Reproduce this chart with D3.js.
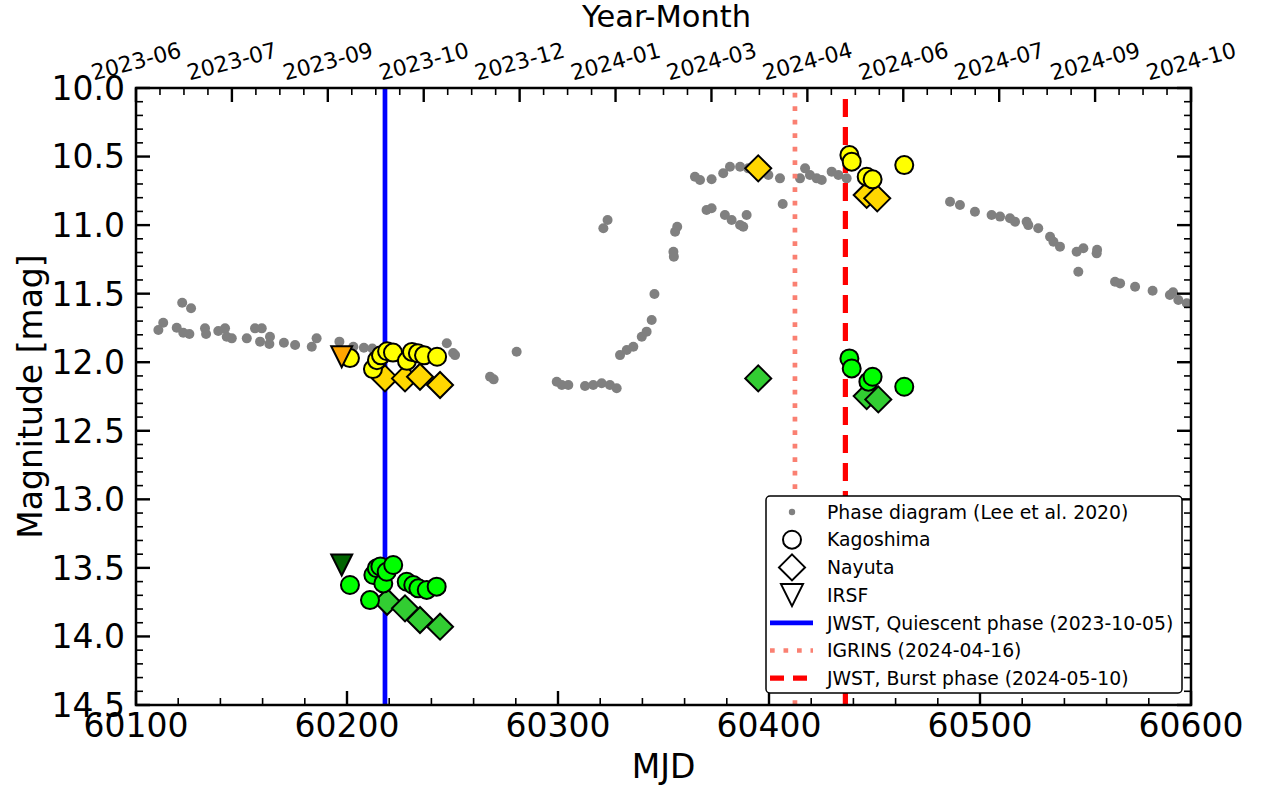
<!DOCTYPE html>
<html><head><meta charset="utf-8">
<script src="https://cdn.jsdelivr.net/npm/d3@7"></script>
<style>body{margin:0;background:#fff}svg{display:block;font-family:"DejaVu Sans",sans-serif}</style>
</head><body><svg id="c" width="1267" height="787"></svg>
<script>
// ---- data ----
const phaseMJD = [60110.6,60112.9,60119.3,60121.9,60122.4,60125.3,60126.1,60132.7,60133.2,60139.0,60142.2,60143.0,60145.4,60152.5,60156.4,60158.8,60159.6,60163.2,60163.5,60170.1,60175.4,60183.3,60185.6,60196.4,60203.0,60208,60212,60222,60232,60238,60247.3,60250.3,60251.2,60267.8,60269.5,60280.4,60299.4,60301.8,60304.9,60312.8,60316.7,60320.7,60324.6,60327.8,60321.5,60323.5,60329.4,60332.6,60335.7,60339.7,60342.0,60344.4,60345.7,60354.7,60354.9,60355.5,60356.5,60364.9,60367.3,60370.4,60372.8,60372.8,60378.3,60379.1,60381.5,60382.3,60386.3,60386.3,60387.8,60389.4,60390.2,60399.7,60405.2,60406.5,60414.7,60417.1,60419.4,60422.6,60425.0,60429.7,60432.9,60436.8,60485.8,60490.5,60497.6,60505.5,60509.5,60514.2,60516.6,60522.1,60522.9,60527.6,60533.2,60534.8,60537.9,60545.8,60546.6,60549.0,60555.3,60555.5,60564.0,60566.4,60573.5,60581.8,60590.0,60591.5,60594.0,60598.0];
const phaseMag = [11.765,11.712,11.748,11.566,11.785,11.794,11.607,11.753,11.794,11.772,11.753,11.814,11.826,11.826,11.753,11.850,11.753,11.867,11.814,11.858,11.875,11.887,11.826,11.850,11.887,11.895,11.90,11.905,11.91,11.92,11.862,11.933,11.948,12.106,12.125,11.923,12.142,12.166,12.166,12.174,12.166,12.154,12.166,12.190,11.023,10.963,11.948,11.911,11.887,11.814,11.777,11.692,11.503,11.194,11.230,11.048,11.012,10.647,10.671,10.890,10.666,10.877,10.622,10.926,10.574,10.963,10.574,10.999,11.012,10.926,10.586,10.635,10.659,10.846,10.659,10.586,10.635,10.659,10.671,10.610,10.635,10.659,10.829,10.853,10.902,10.926,10.938,10.950,10.975,10.975,11.000,11.023,11.085,11.121,11.157,11.194,11.340,11.169,11.206,11.180,11.413,11.425,11.449,11.479,11.510,11.490,11.546,11.570];

const kagoMJD_Y = [60201.4,60212.3,60214.2,60216.1,60219.0,60221.8,60228.4,60230.8,60233.6,60236.5,60242.7,60438.1,60439.2,60446.3,60449.1,60464.1];
const kagoMag_Y = [11.97,12.05,11.985,11.95,11.92,11.93,11.99,11.925,11.935,11.95,11.96,10.489,10.537,10.647,10.666,10.562];
const kagoMJD_G = [60201.4,60210.9,60212.5,60214.1,60215.8,60217.2,60218.8,60221.9,60228.3,60231.4,60233.8,60237.8,60242.5,60438.1,60439.2,60447.1,60449.1,60464.1];
const kagoMag_G = [13.625,13.735,13.552,13.503,13.49,13.613,13.528,13.479,13.601,13.625,13.649,13.661,13.637,11.972,12.045,12.142,12.106,12.179];

const nayMJD_Y = [60218.0,60227.5,60234.6,60244.1,60394.9,60446.3,60451.3];
const nayMag_Y = [12.118,12.118,12.106,12.166,10.586,10.78,10.805];
const nayMJD_G = [60219.0,60227.5,60234.6,60244.1,60394.9,60446.3,60451.8];
const nayMag_G = [13.747,13.795,13.88,13.929,12.118,12.247,12.271];

const irsfMJD_O = [60197.5];
const irsfMag_O = [11.96];
const irsfMJD_G = [60197.5];
const irsfMag_G = [13.479];

const eventMJD = [60218.0, 60412.3, 60436.2];
const eventLabels = ["JWST, Quiescent phase (2023-10-05)", "IGRINS (2024-04-16)", "JWST, Burst phase (2024-05-10)"];

const xTicks = [60100,60200,60300,60400,60500,60600];
const yTicks = [10.0,10.5,11.0,11.5,12.0,12.5,13.0,13.5,14.0,14.5];
const topTickLabels = ["2023-06","2023-07","2023-09","2023-10","2023-12","2024-01","2024-03","2024-04","2024-06","2024-07","2024-09","2024-10"];

// ---- layout ----
const L=136, R=1191, T=88, B=705;
const svg = d3.select("#c");
const x = d3.scaleLinear().domain([60100,60600]).range([L,R]);
const y = d3.scaleLinear().domain([10,14.5]).range([T,B]);

const plot = svg.append("g");
const clipId="clp";
svg.append("defs").append("clipPath").attr("id",clipId).append("rect").attr("x",L).attr("y",T).attr("width",R-L).attr("height",B-T);
plot.attr("clip-path",`url(#${clipId})`);

// gray phase dots
plot.selectAll("circle.ph").data(phaseMJD.map((m,i)=>[m,phaseMag[i]])).join("circle")
  .attr("cx",d=>x(d[0])).attr("cy",d=>y(d[1])).attr("r",5).attr("fill","#808080");

// event lines
const lineStyles = [
  {c:"#0000ff", w:4.7, dash:null},
  {c:"#fa8072", w:4.7, dash:"4.7,8.8"},
  {c:"#ff0000", w:5.2, dash:"18,10"}
];
eventMJD.forEach((m,i)=>{
  const s=lineStyles[i];
  const ln=plot.append("line").attr("x1",x(m)).attr("x2",x(m)).attr("y1",B).attr("y2",T)
    .attr("stroke",s.c).attr("stroke-width",s.w);
  if(s.dash) ln.attr("stroke-dasharray",s.dash);
});

const diamond = r => `M0,${-r}L${r},0L0,${r}L${-r},0Z`;
const triDown = s => `M${-s/2},${-s/2}L${s/2},${-s/2}L0,${s/2}Z`;

function pts(ms,gs){return ms.map((m,i)=>[m,gs[i]]);}
// diamonds
[[nayMJD_Y,nayMag_Y,"#ffd700"],[nayMJD_G,nayMag_G,"#32cd32"]].forEach(([ms,gs,c])=>{
  plot.append("g").selectAll("path").data(pts(ms,gs)).join("path")
    .attr("d",diamond(13)).attr("transform",d=>`translate(${x(d[0])},${y(d[1])})`)
    .attr("fill",c).attr("stroke","#000").attr("stroke-width",2).attr("stroke-linejoin","miter");
});
// circles
[[kagoMJD_Y,kagoMag_Y,"#ffff00"],[kagoMJD_G,kagoMag_G,"#00ff00"]].forEach(([ms,gs,c])=>{
  plot.append("g").selectAll("circle").data(pts(ms,gs)).join("circle")
    .attr("cx",d=>x(d[0])).attr("cy",d=>y(d[1])).attr("r",9)
    .attr("fill",c).attr("stroke","#000").attr("stroke-width",2);
});
// triangles
[[irsfMJD_O,irsfMag_O,"#ffa500"],[irsfMJD_G,irsfMag_G,"#006400"]].forEach(([ms,gs,c])=>{
  plot.append("g").selectAll("path").data(pts(ms,gs)).join("path")
    .attr("d",triDown(21)).attr("transform",d=>`translate(${x(d[0])},${y(d[1])})`)
    .attr("fill",c).attr("stroke","#000").attr("stroke-width",2).attr("stroke-linejoin","miter");
});

// ---- axes ----
const ax = svg.append("g").attr("stroke","#000");
function tick(x1,y1,x2,y2,w){ax.append("line").attr("x1",x1).attr("y1",y1).attr("x2",x2).attr("y2",y2).attr("stroke-width",w);}
const MJ=14, MN=7, MW=2.4, NW=1.6;
// bottom ticks
d3.range(60100,60601,20).forEach(v=>{
  const major = xTicks.includes(v);
  tick(x(v),B,x(v),B-(major?MJ:MN),major?MW:NW);
});
// y ticks both sides
d3.range(0,46).forEach(k=>{
  const v=10+k*0.1; const major = k%5===0;
  const len=major?MJ:MN, w=major?MW:NW;
  tick(L,y(v),L+len,y(v),w);
  tick(R,y(v),R-len,y(v),w);
});
// top ticks (Year-Month)
const topPos = d3.range(12).map(i=>60100+i*500/11);
d3.range(0,45).forEach(k=>{
  const v=60100+k*500/44; const major=k%4===0;
  tick(x(v),T,x(v),T+(major?MJ:MN),major?MW:NW);
});
// spines
svg.append("rect").attr("x",L).attr("y",T).attr("width",R-L).attr("height",B-T)
  .attr("fill","none").attr("stroke","#000").attr("stroke-width",2.5);

// tick labels
const txt = svg.append("g").attr("fill","#000");
xTicks.forEach(v=>txt.append("text").attr("x",x(v)).attr("y",737).attr("text-anchor","middle").attr("font-size",33).text(v));
yTicks.forEach(v=>txt.append("text").attr("x",125).attr("y",y(v)).attr("dy","0.36em").attr("text-anchor","end").attr("font-size",33).text(v.toFixed(1)));
topPos.forEach((v,i)=>txt.append("text").attr("transform",`translate(${x(v)},61) rotate(-15)`)
  .attr("text-anchor","middle").attr("dy","0.36em").attr("font-size",22).text(topTickLabels[i]));

// axis titles
txt.append("text").attr("x",(L+R)/2).attr("y",778).attr("text-anchor","middle").attr("font-size",33).text("MJD");
txt.append("text").attr("transform",`translate(42,${(T+B)/2}) rotate(-90)`).attr("text-anchor","middle").attr("font-size",33).text("Magnitude [mag]");
txt.append("text").attr("x",(L+R)/2+3).attr("y",27).attr("text-anchor","middle").attr("font-size",30.5).text("Year-Month");

// ---- legend ----
const lg = svg.append("g");
lg.append("rect").attr("x",766).attr("y",496).attr("width",416).attr("height",197).attr("rx",4)
  .attr("fill","#fff").attr("stroke","#000").attr("stroke-width",1.5);
const hx=792, tx=827, r0=512, dr=27.7;
const legLabels = ["Phase diagram (Lee et al. 2020)","Kagoshima","Nayuta","IRSF"].concat(eventLabels);
legLabels.forEach((t,i)=>lg.append("text").attr("x",tx).attr("y",r0+i*dr).attr("dy","0.36em").attr("font-size",18.8).text(t));
lg.append("circle").attr("cx",hx).attr("cy",r0).attr("r",3.2).attr("fill","#808080");
lg.append("circle").attr("cx",hx).attr("cy",r0+dr).attr("r",9).attr("fill","none").attr("stroke","#000").attr("stroke-width",2);
lg.append("path").attr("d",diamond(13)).attr("transform",`translate(${hx},${r0+2*dr})`).attr("fill","none").attr("stroke","#000").attr("stroke-width",2);
lg.append("path").attr("d",triDown(22)).attr("transform",`translate(${hx},${r0+3*dr})`).attr("fill","none").attr("stroke","#000").attr("stroke-width",2);
lineStyles.forEach((s,i)=>{
  const ln=lg.append("line").attr("x1",770).attr("x2",813).attr("y1",r0+(4+i)*dr).attr("y2",r0+(4+i)*dr)
    .attr("stroke",s.c).attr("stroke-width",s.w);
  if(s.dash) ln.attr("stroke-dasharray", i===1?"4.7,8.8":"14,9");
});
</script></body></html>
